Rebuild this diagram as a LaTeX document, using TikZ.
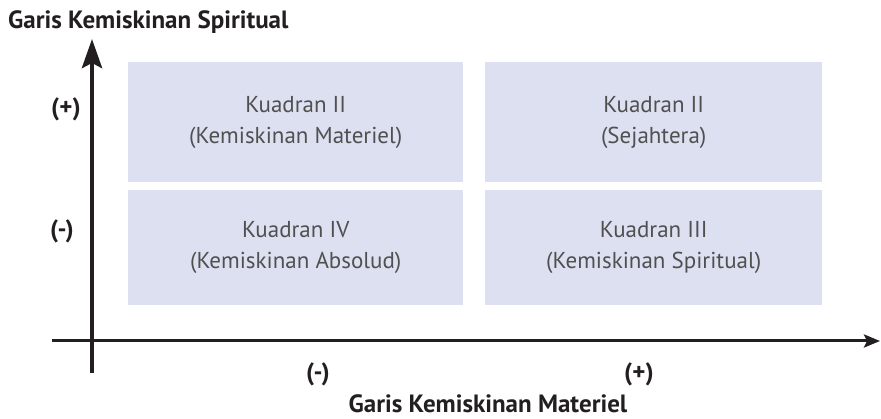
\documentclass[tikz,border=0pt]{standalone}
\usepackage{fontspec}
\setmainfont{PT Sans}
\usetikzlibrary{arrows.meta}
\definecolor{quadfill}{RGB}{221,224,240}
\definecolor{quadtext}{RGB}{80,80,80}
\definecolor{axisink}{RGB}{35,31,32}
\begin{document}
\begin{tikzpicture}[x=1pt,y=-1pt,
  quad/.style={fill=quadfill,draw=none,inner sep=0pt,anchor=north west},
  quadlabel/.style={text=quadtext,align=center,font=\fontsize{23}{31}\selectfont},
  axislabel/.style={text=axisink,font=\fontsize{25}{28}\selectfont\bfseries},
  signlabel/.style={text=axisink,font=\fontsize{25}{28}\selectfont\bfseries}]
\useasboundingbox (0,0) rectangle (881,419);

% quadrant boxes
\node[quad,minimum width=335pt,minimum height=120pt] (q2a) at (128,62) {};
\node[quad,minimum width=337pt,minimum height=120pt] (q1) at (485,62) {};
\node[quad,minimum width=335pt,minimum height=115pt] (q4) at (128,190) {};
\node[quad,minimum width=337pt,minimum height=115pt] (q3) at (485,190) {};

\node[quadlabel] (t2a) at (q2a.center) {Kuadran II\\(Kemiskinan Materiel)};
\node[quadlabel] (t1) at (q1.center) {Kuadran II\\(Sejahtera)};
\node[quadlabel] (t4) at (q4.center) {Kuadran IV\\(Kemiskinan Absolud)};
\node[quadlabel] (t3) at (q3.center) {Kuadran III\\(Kemiskinan Spiritual)};

% axes
\coordinate (vbot) at (92,373);
\coordinate (vtop) at (92,39);
\coordinate (hleft) at (52,341);
\coordinate (hright) at (880,341);
\draw[axisink,line width=4.5pt,-{Stealth[length=29pt,width=20pt,inset=5pt]}] (vbot) -- (vtop);
\draw[axisink,line width=3pt,-{Stealth[length=16pt,width=13pt,inset=3pt]}] (hleft) -- (hright);

% axis titles
\node[axislabel,anchor=west,inner sep=0pt] (ytitle) at (8,22) {Garis Kemiskinan Spiritual};
\node[axislabel] (xtitle) at (488,404) {Garis Kemiskinan Materiel};

% signs
\node[signlabel] (yplus) at (66,109) {(+)};
\node[signlabel] (yminus) at (62,231) {(-)};
\node[signlabel] (xminus) at (318,374) {(-)};
\node[signlabel] (xplus) at (639,374) {(+)};
\end{tikzpicture}
\end{document}
